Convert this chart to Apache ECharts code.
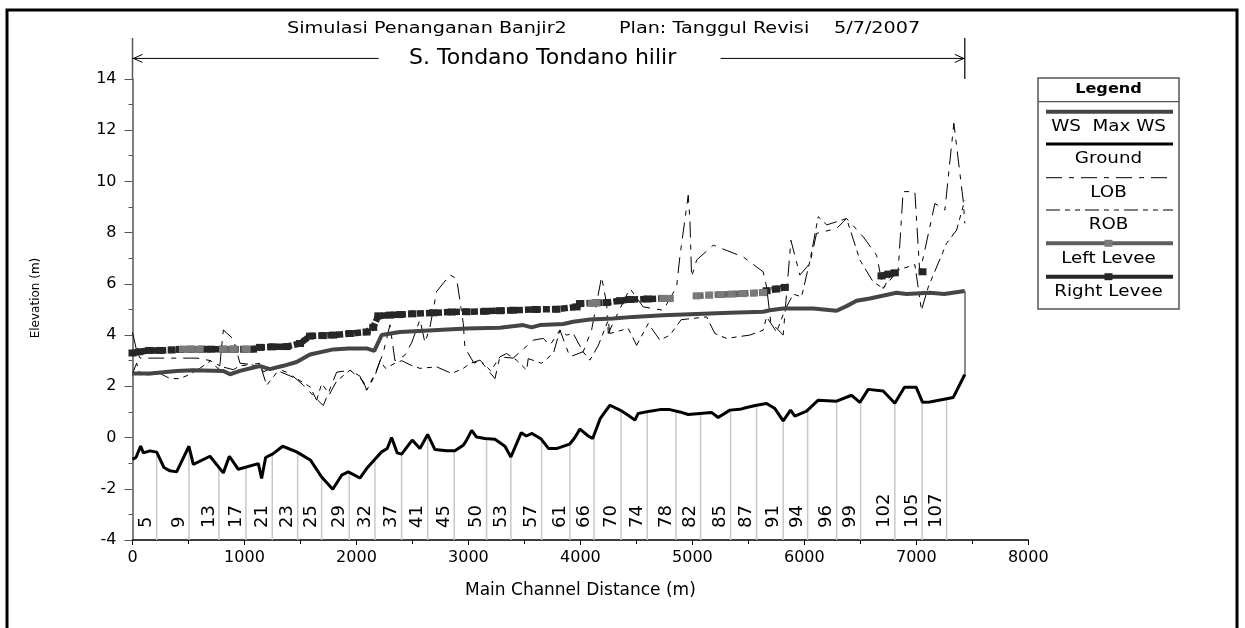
<!DOCTYPE html>
<html>
<head>
<meta charset="utf-8">
<title>S. Tondano Tondano hilir</title>
<script src="https://cdn.jsdelivr.net/npm/echarts@6/dist/echarts.min.js"></script>
<style>
  html, body { margin: 0; padding: 0; background: #fff; }
  #main { width: 1245px; height: 628px; }
</style>
</head>
<body>
<div id="main"></div>
<script>
// ground (channel invert) profile
var groundX = [0, 31, 73, 97, 156, 216, 281, 335, 394, 504, 543, 692, 811, 865, 945, 1124, 1153, 1189, 1257, 1341,
  1466, 1591, 1689, 1788, 1868, 1927, 2031, 2091, 2165, 2225, 2275, 2314, 2364, 2403, 2498, 2567, 2636, 2701, 2805, 2879,
  2954, 2984, 3029, 3073, 3147, 3237, 3326, 3379, 3472, 3517, 3568, 3650, 3716, 3787, 3903, 3951, 3996, 4070, 4110, 4178,
  4263, 4368, 4427, 4487, 4516, 4621, 4710, 4799, 4888, 4963, 5067, 5171, 5230, 5335, 5424, 5484, 5573, 5663, 5737, 5811,
  5877, 5915, 6020, 6124, 6288, 6422, 6496, 6570, 6704, 6808, 6894, 6999, 7055, 7121, 7329, 7433];
var groundY = [-0.85, -0.78, -0.33, -0.6, -0.52, -0.57, -1.17, -1.3, -1.34, -0.34, -1.05, -0.73, -1.38, -0.73, -1.24, -1.02, -1.6, -0.78, -0.63, -0.34,
  -0.56, -0.89, -1.54, -2.02, -1.47, -1.34, -1.58, -1.21, -0.85, -0.56, -0.43, 0, -0.6, -0.65, -0.1, -0.43, 0.12, -0.47, -0.52, -0.52,
  -0.3, -0.1, 0.28, 0.02, -0.04, -0.07, -0.34, -0.76, 0.19, 0.06, 0.16, -0.06, -0.43, -0.43, -0.26, 0, 0.33, 0.06, -0.04, 0.75,
  1.26, 1.04, 0.87, 0.68, 0.94, 1.03, 1.09, 1.09, 1.0, 0.9, 0.94, 0.98, 0.78, 1.07, 1.1, 1.17, 1.26, 1.33, 1.13, 0.65,
  1.07, 0.84, 1.03, 1.46, 1.42, 1.65, 1.37, 1.88, 1.82, 1.34, 1.96, 1.96, 1.38, 1.39, 1.56, 2.46];

// max water surface
var wsX = [0, 156, 394, 543, 811, 871, 960, 1138, 1228, 1347, 1466, 1585, 1793, 1927, 2091, 2159, 2225, 2388, 2686, 2984,
  3281, 3489, 3564, 3638, 3847, 3936, 4085, 4293, 4471, 4739, 5038, 5335, 5632, 5692, 5811, 6079, 6288, 6377, 6466, 6585,
  6823, 6912, 7121, 7250, 7433];
var wsY = [2.5, 2.5, 2.6, 2.63, 2.6, 2.47, 2.6, 2.79, 2.67, 2.8, 2.95, 3.24, 3.44, 3.48, 3.48, 3.38, 4.0, 4.12, 4.19, 4.26,
  4.29, 4.39, 4.3, 4.39, 4.43, 4.52, 4.61, 4.65, 4.71, 4.77, 4.82, 4.87, 4.91, 4.97, 5.04, 5.04, 4.95, 5.13, 5.34, 5.43,
  5.65, 5.6, 5.65, 5.6, 5.72];

// left overbank station elevation
var lobX = [0, 37, 67, 150, 300, 450, 576, 700, 780, 811, 900, 960, 1060, 1140, 1168, 1257, 1406, 1525, 1645, 1704,
  1823, 1942, 2061, 2091, 2180, 2239, 2299, 2344, 2430, 2493, 2567, 2612, 2656, 2716, 2835, 2895, 2954, 2969, 3050, 3103,
  3237, 3281, 3400, 3579, 3668, 3728, 3817, 3906, 4025, 4100, 4189, 4234, 4249, 4350, 4442, 4561, 4739, 4859, 4888, 4963,
  4978, 4993, 5038, 5186, 5454, 5632, 5663, 5700, 5811, 5856, 5880, 5960, 6050, 6109, 6288, 6377, 6525, 6645, 6704, 6838,
  6882, 6987, 7031, 7166, 7255, 7335, 7418, 7433];
var lobY = [4.1, 3.4, 3.1, 3.1, 3.1, 3.1, 3.1, 3.0, 2.8, 4.2, 3.85, 2.9, 2.85, 2.9, 2.56, 2.75, 2.5, 2.05, 1.5, 1.25,
  2.55, 2.63, 2.2, 1.85, 2.63, 3.3, 4.4, 3.0, 3.2, 3.7, 4.6, 3.7, 4.3, 5.7, 6.35, 6.2, 4.45, 3.5, 2.9, 3.02,
  2.3, 3.15, 3.1, 3.8, 3.87, 3.6, 4.2, 3.15, 3.35, 4.2, 6.27, 5.23, 4.06, 5.0, 5.82, 5.1, 4.97, 5.88, 7.05, 9.46,
  8.49, 6.27, 6.93, 7.51, 7.05, 6.47, 5.88, 4.5, 4.0, 6.41, 7.7, 6.34, 6.8, 7.97, 8.16, 8.55, 7.84, 7.12, 5.82, 6.54,
  9.6, 9.6, 6.41, 9.14, 8.88, 12.27, 9.27, 8.36];

// right overbank station elevation
var robX = [0, 37, 67, 156, 246, 335, 424, 504, 600, 700, 760, 811, 900, 960, 1060, 1150, 1198, 1300, 1466, 1585,
  1645, 1689, 1760, 1823, 1942, 2031, 2091, 2165, 2210, 2260, 2344, 2403, 2500, 2567, 2716, 2850, 2954, 3013, 3103, 3200,
  3281, 3341, 3430, 3520, 3534, 3654, 3760, 3817, 3877, 3936, 4025, 4085, 4160, 4249, 4263, 4427, 4502, 4606, 4710, 4800,
  4900, 5127, 5201, 5305, 5513, 5632, 5663, 5752, 5826, 5900, 5975, 6050, 6124, 6200, 6377, 6496, 6614, 6704, 6763, 6838,
  6987, 7046, 7107, 7270, 7360, 7433];
var robY = [2.5, 2.9, 2.45, 2.45, 2.5, 2.3, 2.3, 2.45, 2.7, 3.0, 2.7, 2.75, 2.65, 2.8, 2.85, 2.7, 2.04, 2.6, 2.3, 1.98,
  1.46, 2.1, 1.7, 2.2, 2.63, 2.4, 1.85, 2.4, 3.0, 2.7, 2.9, 3.0, 2.8, 2.7, 2.76, 2.5, 2.7, 2.89, 3.02, 2.6,
  3.15, 3.28, 3.02, 2.63, 3.08, 2.9, 3.3, 4.19, 4.0, 4.06, 3.34, 3.02, 3.6, 4.58, 4.06, 4.26, 3.6, 4.45, 3.8, 4.0,
  4.6, 4.71, 4.06, 3.87, 4.0, 4.19, 4.71, 4.12, 4.97, 5.6, 5.49, 6.9, 8.62, 8.3, 8.55, 6.93, 6.08, 5.82, 6.27, 6.54,
  6.75, 4.97, 5.88, 7.58, 8.1, 9.27];

// levees (null = no levee between stations)
var leftLeveeX = [450, 520, 600, 700, 808, 900, 1020, 1100, 4100, 4145, 4200, 4739, 4799, 4900, 5038, 5150, 5250, 5350, 5450, 5550, 5632];
var leftLeveeY = [3.45, 3.45, 3.45, null, 3.45, 3.45, 3.45, null, 5.24, 5.26, null, 5.43, 5.43, null, 5.53, 5.56, 5.58, 5.6, 5.62, 5.64, 5.66];
var leftLeveeOpenX = [5915];
var leftLeveeOpenY = [5.85];
var rightLeveeX = [0, 60, 150, 250, 350, 424, 520, 620, 700, 811, 900, 1000, 1077, 1138, 1250, 1377, 1496, 1585, 1700, 1793,
  1942, 2091, 2150, 2195, 2300, 2388, 2500, 2686, 2850, 2984, 3150, 3281, 3400, 3600, 3787, 3966, 3996, 4145, 4234, 4353,
  4442, 4600, 4739, 4800, 5632, 5663, 5750, 5826, 5900, 6689, 6750, 6808, 6900, 7055];
var rightLeveeY = [3.3, 3.35, 3.4, 3.4, 3.42, 3.44, 3.45, 3.45, 3.45, 3.45, 3.45, 3.45, 3.45, 3.52, 3.54, 3.55, 3.67, 3.96, 3.98, 4.0,
  4.06, 4.12, 4.3, 4.75, 4.78, 4.8, 4.83, 4.87, 4.9, 4.91, 4.93, 4.95, 4.97, 5.0, 5.01, 5.1, 5.23, 5.26, 5.27, 5.34,
  5.39, 5.41, 5.43, null, 5.66, 5.73, 5.8, 5.86, null, 6.31, 6.38, 6.43, null, 6.47];

// cross section river stations shown along the bottom
var stationX = [216, 504, 772, 1013, 1248, 1475, 1689, 1936, 2165, 2403, 2636, 2873, 3162, 3379, 3654,
  3906, 4121, 4362, 4597, 4853, 5073, 5341, 5573, 5811, 6029, 6288, 6502, 6808, 7052, 7270];
var stationLabels = ['5', '9', '13', '17', '21', '23', '25', '29', '32', '37', '41', '45', '50', '53', '57',
  '61', '66', '70', '74', '78', '82', '85', '87', '91', '94', '96', '99', '102', '105', '107'];

var FONT = '"DejaVu Sans", "Liberation Sans", sans-serif';
var LOB_DASH = [16, 7, 5, 7];
var ROB_DASH = [14, 5, 5, 5, 5, 5];
var LEVEE_DASH = [7, 2];

function pairs(xs, ys) {
  return xs.map(function (x, i) {
    return [x, ys[i] === null ? '-' : ys[i]];
  });
}

function groundAt(x) {
  for (var i = 1; i < groundX.length; i++) {
    if (x <= groundX[i]) {
      var t = (x - groundX[i - 1]) / (groundX[i] - groundX[i - 1]);
      return groundY[i - 1] + t * (groundY[i] - groundY[i - 1]);
    }
  }
  return groundY[groundY.length - 1];
}

function renderStation(params, api) {
  var x = api.value(0);
  var base = api.coord([x, -4]);
  var top = api.coord([x, groundAt(x)]);
  return {
    type: 'group',
    children: [{
      type: 'line',
      shape: { x1: base[0], y1: base[1], x2: top[0], y2: top[1] },
      style: { stroke: '#c8c8c8', lineWidth: 1.5 }
    }, {
      type: 'text',
      x: base[0] - 1,
      y: base[1] - 12,
      rotation: Math.PI / 2,
      style: {
        text: stationLabels[params.dataIndex],
        font: '18px ' + FONT,
        fill: '#000',
        align: 'left',
        verticalAlign: 'bottom',
        textAlign: 'left',
        textVerticalAlign: 'bottom'
      }
    }]
  };
}

var leftLeveeData = pairs(leftLeveeX, leftLeveeY);
leftLeveeData.push([leftLeveeOpenX[0], '-']);
leftLeveeOpenX.forEach(function (x, i) {
  leftLeveeData.push({ value: [x, leftLeveeOpenY[i]], symbol: 'emptyRect', symbolSize: 7,
    itemStyle: { color: '#fff', borderColor: '#777', borderWidth: 1.2 } });
});

var lastX = groundX[groundX.length - 1];

var option = {
  animation: false,
  backgroundColor: '#ffffff',
  grid: { left: 132.5, right: 216.7, top: 78.9, bottom: 88 },
  xAxis: {
    type: 'value',
    min: 0,
    max: 8000,
    interval: 1000,
    name: 'Main Channel Distance (m)',
    nameLocation: 'middle',
    nameGap: 42,
    nameTextStyle: { fontFamily: FONT, fontSize: 17, color: '#000' },
    axisLine: { onZero: false, lineStyle: { color: '#000', width: 1.5 } },
    axisTick: { length: 5, lineStyle: { color: '#000' } },
    minorTick: { show: true, splitNumber: 2, length: 4, lineStyle: { color: '#000' } },
    axisLabel: { fontFamily: FONT, fontSize: 16, color: '#000', margin: 10,
      formatter: function (v) { return String(v); } },
    splitLine: { show: false }
  },
  yAxis: {
    type: 'value',
    min: -4,
    max: 14,
    interval: 2,
    axisLine: { show: true, onZero: false, lineStyle: { color: '#555', width: 1.5 } },
    axisTick: { show: true, length: 8, lineStyle: { color: '#555' } },
    minorTick: { show: true, splitNumber: 2, length: 4, lineStyle: { color: '#555' } },
    axisLabel: { fontFamily: FONT, fontSize: 16, color: '#000', margin: 16 },
    splitLine: { show: false }
  },
  series: [{
    name: 'Stations',
    type: 'custom',
    renderItem: renderStation,
    data: stationX.map(function (x) { return [x, -4]; }),
    encode: { x: 0, y: 1 },
    z: 1,
    silent: true
  }, {
    name: 'LOB',
    type: 'line',
    data: pairs(lobX, lobY),
    showSymbol: false,
    lineStyle: { color: '#000', width: 1, type: LOB_DASH },
    z: 3
  }, {
    name: 'ROB',
    type: 'line',
    data: pairs(robX, robY),
    showSymbol: false,
    lineStyle: { color: '#000', width: 1, type: ROB_DASH },
    z: 3
  }, {
    name: 'WS  Max WS',
    type: 'line',
    data: pairs(wsX, wsY),
    showSymbol: false,
    lineStyle: { color: '#454545', width: 4 },
    z: 4
  }, {
    name: 'Ground',
    type: 'line',
    data: pairs(groundX, groundY),
    showSymbol: false,
    lineStyle: { color: '#000', width: 3 },
    z: 5,
    markLine: {
      silent: true,
      symbol: 'none',
      label: { show: false },
      lineStyle: { color: '#666', width: 1.5, type: 'solid' },
      data: [[{ coord: [lastX, groundY[groundY.length - 1]] }, { coord: [lastX, wsY[wsY.length - 1]] }]]
    }
  }, {
    name: 'Right Levee',
    type: 'line',
    data: pairs(rightLeveeX, rightLeveeY),
    symbol: 'rect',
    symbolSize: [8, 7],
    itemStyle: { color: '#262626' },
    lineStyle: { color: '#262626', width: 6.5, type: LEVEE_DASH },
    z: 6
  }, {
    name: 'Left Levee',
    type: 'line',
    data: leftLeveeData,
    symbol: 'rect',
    symbolSize: [8, 7],
    itemStyle: { color: '#7a7a7a' },
    lineStyle: { color: '#666666', width: 6.5, type: LEVEE_DASH },
    z: 7
  }]
};

var chart = echarts.init(document.getElementById('main'));
chart.setOption(option);

function buildOverlay() {
  var p0 = chart.convertToPixel('grid', [groundX[0], 14]);
  var p1 = chart.convertToPixel('grid', [lastX, 14]);
  var yArrow = chart.convertToPixel('grid', [0, 14.8])[1];
  var yTop = chart.convertToPixel('grid', [0, 15.6])[1];
  var mid = (p0[0] + p1[0]) / 2;
  var els = [];

  // outer frame
  els.push({ type: 'rect', shape: { x: 7, y: 10, width: 1230, height: 640 },
    style: { fill: 'none', stroke: '#000', lineWidth: 3 }, silent: true });

  // title
  var titleFont = '16px ' + FONT;
  [['Simulasi Penanganan Banjir2', 287], ['Plan: Tanggul Revisi', 619], ['5/7/2007', 834]].forEach(function (t) {
    els.push({ type: 'text', x: t[1], y: 29, scaleX: 1.2,
      style: { text: t[0], font: titleFont, fill: '#000', textVerticalAlign: 'middle', verticalAlign: 'middle' } });
  });

  // reach extent arrows
  els.push({ type: 'line', shape: { x1: p0[0], y1: yTop, x2: p0[0], y2: p0[1] }, style: { stroke: '#555', lineWidth: 1.5 } });
  els.push({ type: 'line', shape: { x1: p1[0], y1: yTop, x2: p1[0], y2: p1[1] }, style: { stroke: '#000', lineWidth: 1.2 } });
  els.push({ type: 'line', shape: { x1: p0[0], y1: yArrow, x2: mid - 170, y2: yArrow }, style: { stroke: '#000', lineWidth: 1 } });
  els.push({ type: 'line', shape: { x1: mid + 172, y1: yArrow, x2: p1[0], y2: yArrow }, style: { stroke: '#000', lineWidth: 1 } });
  els.push({ type: 'polyline', shape: { points: [[p0[0] + 10, yArrow - 4], [p0[0] + 1, yArrow], [p0[0] + 10, yArrow + 4]] },
    style: { stroke: '#000', lineWidth: 1, fill: 'none' } });
  els.push({ type: 'polyline', shape: { points: [[p1[0] - 10, yArrow - 4], [p1[0] - 1, yArrow], [p1[0] - 10, yArrow + 4]] },
    style: { stroke: '#000', lineWidth: 1, fill: 'none' } });
  els.push({ type: 'text', x: mid - 6, y: yArrow,
    style: { text: 'S. Tondano Tondano hilir', font: '22px ' + FONT, fill: '#000',
      textAlign: 'center', align: 'center', textVerticalAlign: 'middle', verticalAlign: 'middle' } });

  // y axis name
  els.push({ type: 'text', x: 36, y: 298, rotation: Math.PI / 2,
    style: { text: 'Elevation (m)', font: '12px ' + FONT, fill: '#000',
      textAlign: 'center', align: 'center', textVerticalAlign: 'middle', verticalAlign: 'middle' } });

  // legend box
  var lx = 1038, ly = 78, lw = 141, lh = 231, cx = lx + lw / 2;
  els.push({ type: 'rect', shape: { x: lx, y: ly, width: lw, height: lh },
    style: { fill: '#fff', stroke: '#555', lineWidth: 1.5 } });
  els.push({ type: 'text', x: cx, y: 89, scaleX: 1.15,
    style: { text: 'Legend', font: 'bold 14px ' + FONT, fill: '#000',
      textAlign: 'center', align: 'center', textVerticalAlign: 'middle', verticalAlign: 'middle' } });
  els.push({ type: 'line', shape: { x1: lx, y1: 101.7, x2: lx + lw, y2: 101.7 }, style: { stroke: '#555', lineWidth: 1.2 } });
  var rows = [
    { text: 'WS  Max WS', y: 111.7, stroke: '#454545', width: 4 },
    { text: 'Ground', y: 144, stroke: '#000', width: 3 },
    { text: 'LOB', y: 177.7, stroke: '#000', width: 1, dash: LOB_DASH },
    { text: 'ROB', y: 210, stroke: '#000', width: 1, dash: ROB_DASH },
    { text: 'Left Levee', y: 243.3, stroke: '#5e5e5e', width: 4, mark: '#7a7a7a' },
    { text: 'Right Levee', y: 276.7, stroke: '#262626', width: 4, mark: '#262626' }
  ];
  rows.forEach(function (r) {
    els.push({ type: 'line', shape: { x1: lx + 8, y1: r.y, x2: lx + lw - 6, y2: r.y },
      style: { stroke: r.stroke, lineWidth: r.width, lineDash: r.dash || null } });
    if (r.mark) {
      els.push({ type: 'rect', shape: { x: cx - 4, y: r.y - 3.5, width: 8, height: 7 }, style: { fill: r.mark } });
    }
    els.push({ type: 'text', x: cx, y: r.y + 15.5, scaleX: 1.22,
      style: { text: r.text, font: '15px ' + FONT, fill: '#000',
        textAlign: 'center', align: 'center', textVerticalAlign: 'middle', verticalAlign: 'middle' } });
  });
  return els;
}

chart.setOption({ graphic: { elements: buildOverlay() } });
</script>
</body>
</html>
